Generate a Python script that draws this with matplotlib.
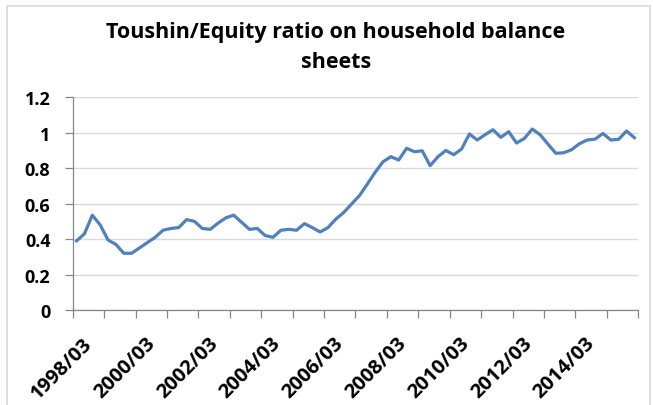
import matplotlib.pyplot as plt
import numpy as np
from matplotlib.patches import Rectangle
from matplotlib.ticker import FixedLocator, FuncFormatter

# quarterly toushin / equity ratio, 1998/03 .. 2015/12
years = list(range(1998, 2016))
months = ["03", "06", "09", "12"]
quarters = [f"{y}/{m}" for y in years for m in months]

ratio = [
    0.39, 0.43, 0.535, 0.48, 0.395, 0.37, 0.32, 0.32,
    0.35, 0.38, 0.41, 0.45, 0.46, 0.465, 0.51, 0.50,
    0.46, 0.455, 0.49, 0.52, 0.535, 0.495, 0.455, 0.46,
    0.42, 0.41, 0.45, 0.455, 0.45, 0.487, 0.465, 0.44,
    0.465, 0.513, 0.55, 0.598, 0.645, 0.71, 0.777, 0.836,
    0.865, 0.846, 0.912, 0.893, 0.898, 0.814, 0.865, 0.90,
    0.876, 0.908, 0.993, 0.959, 0.989, 1.017, 0.974, 1.006,
    0.942, 0.968, 1.021, 0.989, 0.936, 0.884, 0.887, 0.904,
    0.938, 0.959, 0.964, 0.996, 0.959, 0.963, 1.01, 0.972,
]

yticks = [0, 0.2, 0.4, 0.6, 0.8, 1.0, 1.2]
title = "Toushin/Equity ratio on household balance\nsheets"

plt.rcParams["font.family"] = ["Open Sans", "DejaVu Sans"]

fig = plt.figure(figsize=(6.53, 4.06), dpi=100)
ax = fig.add_axes([0.1113, 0.234, 0.8662, 0.5239])

# chart area border (only partly inside the crop)
fig.patches.append(Rectangle((6.5 / 653, -0.05), 643.5 / 653, 1.05 - 7 / 406,
                             transform=fig.transFigure, fill=False,
                             edgecolor="#d9d9d9", linewidth=1.2))

x = np.arange(len(quarters))
ax.plot(x, ratio, color="#4f81bd", linewidth=2.3, solid_joinstyle="round")

ax.set_xlim(-0.5, len(quarters) - 0.5)
ax.set_ylim(0, 1.2)
ax.set_yticks(yticks)
ax.yaxis.set_major_formatter(FuncFormatter(lambda v, _: f"{v:g}"))
ax.grid(axis="y", color="#d9d9d9", linewidth=1.0)
ax.set_axisbelow(True)

# tick marks between categories, one per year
ax.xaxis.set_major_locator(FixedLocator(np.arange(-0.5, len(quarters), 4)))
ax.xaxis.set_major_formatter(FuncFormatter(lambda v, _: ""))
for i in range(0, len(quarters), 8):
    ax.text(i + 0.7, -0.13, quarters[i], rotation=45, rotation_mode="anchor",
            ha="right", va="top", fontsize=14.5, fontweight="bold")

for side in ["top", "right"]:
    ax.spines[side].set_visible(False)
for side in ["left", "bottom"]:
    ax.spines[side].set_color("#868686")
    ax.spines[side].set_linewidth(0.9)
ax.tick_params(axis="x", length=6, color="#868686", width=0.9)
ax.tick_params(axis="y", length=6, color="#868686", width=0.9,
               labelsize=13, pad=10)
for lbl in ax.get_yticklabels():
    lbl.set_fontweight("bold")

fig.text(0.514, 0.945, title, ha="center", va="top", fontsize=15.5,
         fontweight="bold", linespacing=1.55)

fig.savefig("out.png", dpi=100)
